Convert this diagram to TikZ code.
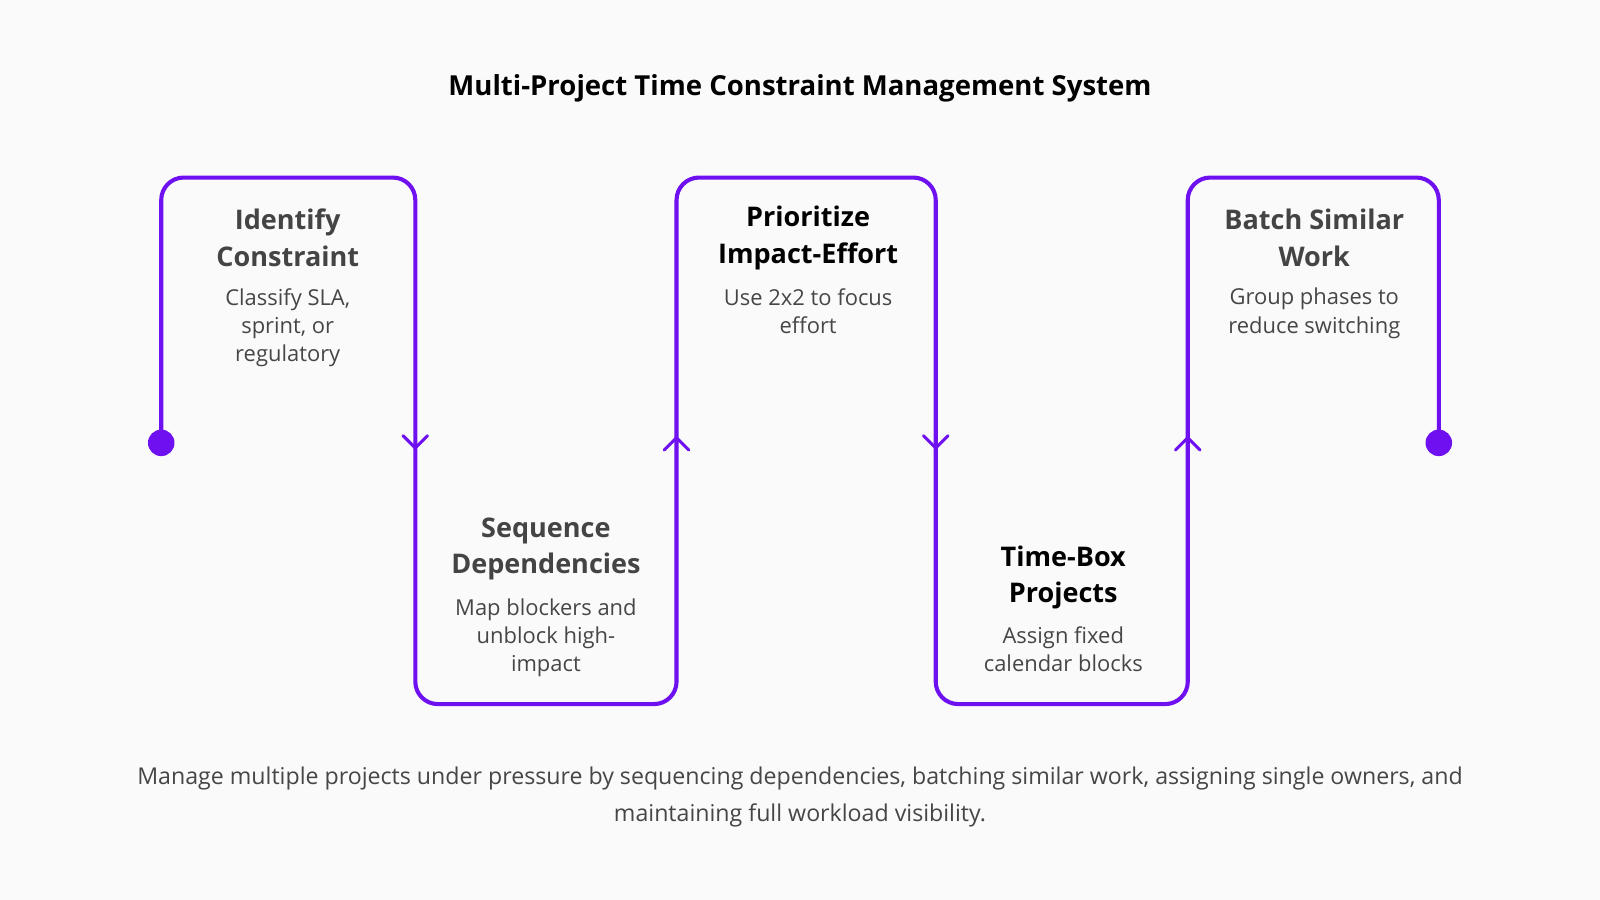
\documentclass[tikz,border=0pt]{standalone}
\usepackage{fontspec}
\setmainfont{Open Sans}
\begin{document}
\begin{tikzpicture}[x=1pt,y=-1pt,
  line/.style={draw=pur,line width=4pt,rounded corners=22pt},
  chev/.style={draw=pur,line width=3pt,line cap=round,line join=round},
  head/.style={align=center,font=\fontsize{26.5}{36}\selectfont\bfseries,text=hd},
  body/.style={align=center,font=\fontsize{21.5}{27.5}\selectfont,text=bd}]
\definecolor{pur}{RGB}{110,16,240}
\definecolor{hd}{RGB}{68,68,68}
\definecolor{bd}{RGB}{70,70,70}
\fill[white!98!black] (0,0) rectangle (1568,882);
\useasboundingbox (0,0) rectangle (1568,882);
\node[font=\fontsize{27}{30}\selectfont\bfseries] (title) at (784,87) {Multi-Project Time Constraint Management System};
\coordinate (s) at (158,434);
\coordinate (e) at (1410,434);
\draw[line] (s) -- (158,174) -- (407,174) -- (407,690) -- (663,690) -- (663,174) -- (917,174) -- (917,690) -- (1164,690) -- (1164,174) -- (1410,174) -- (e);
\fill[pur] (s) circle (13);
\fill[pur] (e) circle (13);
\draw[chev] (395,427) -- (407,439) -- (419,427);
\draw[chev] (651,441) -- (663,429) -- (675,441);
\draw[chev] (905,427) -- (917,439) -- (929,427);
\draw[chev] (1152,441) -- (1164,429) -- (1176,441);
\node[head] (h1) at (282,233) {Identify\\Constraint};
\node[body,anchor=north] (b1) at (282,279) {Classify SLA,\\sprint, or\\regulatory};
\node[head] (h2) at (535,538) {Sequence\\Dependencies};
\node[body,anchor=north] (b2) at (535,583) {Map blockers and\\unblock high-\\impact};
\node[head,text=black] (h3) at (792,233) {Prioritize\\Impact-Effort};
\node[body,anchor=north] (b3) at (792,279) {Use 2x2 to focus\\effort};
\node[head,text=black] (h4) at (1042,566) {Time-Box\\Projects};
\node[body,anchor=north] (b4) at (1042,611) {Assign fixed\\calendar blocks};
\node[head] (h5) at (1288,233) {Batch Similar\\Work};
\node[body,anchor=north] (b5) at (1288,279) {Group phases to\\reduce switching};
\node[body,anchor=north,font=\fontsize{22.7}{36}\selectfont] (foot) at (784,748) {Manage multiple projects under pressure by sequencing dependencies, batching similar work, assigning single owners, and\\maintaining full workload visibility.};
\end{tikzpicture}
\end{document}
